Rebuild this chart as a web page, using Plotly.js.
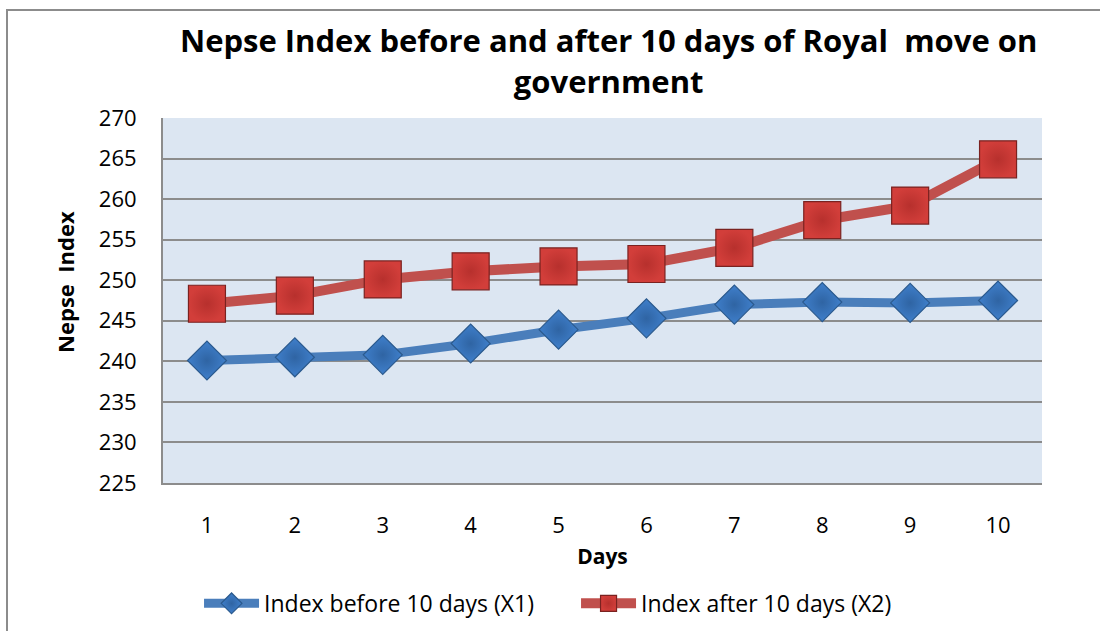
<!DOCTYPE html>
<html>
<head>
<meta charset="utf-8">
<script src="https://cdn.plot.ly/plotly-3.0.1.min.js"></script>
<style>
  html, body { margin: 0; padding: 0; background: #fff; }
  #frame { position: absolute; left: 6px; top: 9px; width: 1100px; height: 640px; border: 2px solid #8c8c8c; box-sizing: border-box; }
  #chart { position: absolute; left: 0; top: 0; width: 1100px; height: 631px; }
</style>
</head>
<body>
<div id="frame"></div>
<div id="chart"></div>
<script>
const days = ["1", "2", "3", "4", "5", "6", "7", "8", "9", "10"];
const before = [240.1, 240.5, 240.8, 242.2, 243.9, 245.3, 247.0, 247.3, 247.2, 247.5];
const after = [247.1, 248.1, 250.1, 251.1, 251.7, 252.0, 254.0, 257.4, 259.2, 264.9];
const seriesNames = ["Index before 10 days (X1)", "Index after 10 days (X2)"];
const yTicks = [225, 230, 235, 240, 245, 250, 255, 260, 265, 270];

const regular = "Open Sans, Calibri, sans-serif";

const traces = [
  {
    x: days, y: before, name: seriesNames[0], type: "scatter", mode: "lines+markers",
    line: { color: "#4a7ebb", width: 9 },
    marker: { symbol: "diamond", size: 30, color: "#3f7fcb",
      gradient: { type: "radial", color: "#2f64a3" },
      line: { color: "#2b5a8e", width: 1.2 } }
  },
  {
    x: days, y: after, name: seriesNames[1], type: "scatter", mode: "lines+markers",
    line: { color: "#c0504d", width: 10 },
    marker: { symbol: "square", size: 37, color: "#d23e3a",
      gradient: { type: "radial", color: "#b7302d" },
      line: { color: "#7a2220", width: 1.2 } }
  }
];

const layout = {
  width: 1100, height: 631,
  paper_bgcolor: "rgba(0,0,0,0)",
  plot_bgcolor: "#dce6f2",
  margin: { l: 163, r: 58, t: 118, b: 148, autoexpand: false },
  showlegend: true,
  title: {
    text: "Nepse Index before and after 10 days of Royal  move on<br>government",
    font: { family: regular, size: 31, color: "#000", weight: "bold" },
    x: 0.507, xref: "paper", xanchor: "center",
    y: 0.917, yref: "container", yanchor: "top"
  },
  xaxis: {
    type: "category", range: [-0.5, 9.5],
    showgrid: false, zeroline: false,
    showline: true, linecolor: "#8c8c8c", linewidth: 2,
    ticks: "", ticklabelstandoff: 22,
    tickfont: { family: regular, size: 22, color: "#000" },
    title: { text: "Days", font: { family: regular, size: 21, color: "#000", weight: "bold" }, standoff: 11 }
  },
  yaxis: {
    range: [225, 270], tickvals: yTicks,
    showgrid: true, gridcolor: "#8c8c8c", gridwidth: 2,
    zeroline: false,
    showline: true, linecolor: "#8c8c8c", linewidth: 2,
    ticks: "", ticklabelstandoff: 20,
    tickfont: { family: regular, size: 22, color: "#000" }
  },
  annotations: [{
    text: "Nepse  Index", textangle: -90, showarrow: false,
    xref: "paper", yref: "paper", x: -0.1115, y: 0.551,
    xanchor: "center", yanchor: "middle",
    font: { family: regular, size: 22, color: "#000", weight: "bold" }
  }],
  legend: {
    orientation: "h", x: 0.041, xanchor: "left", y: -0.271, yanchor: "top",
    font: { family: regular, size: 23, color: "#000" },
    entrywidth: 307, entrywidthmode: "pixels",
    itemwidth: 55, bgcolor: "rgba(0,0,0,0)"
  }
};

Plotly.newPlot("chart", traces, layout, { displayModeBar: false, staticPlot: true });
</script>
</body>
</html>
